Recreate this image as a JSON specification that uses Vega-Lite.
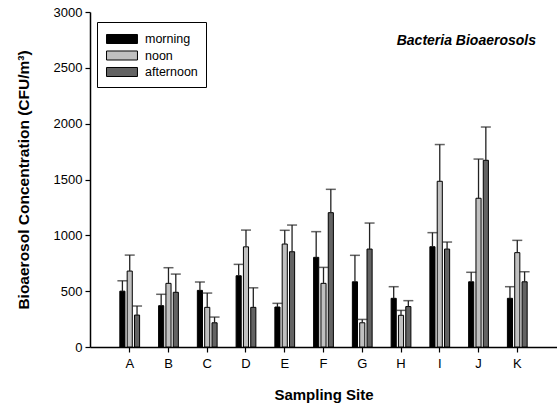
{
  "$schema": "https://vega.github.io/schema/vega-lite/v6.json",
  "width": 467,
  "height": 335,
  "autosize": {"type": "none"},
  "padding": {"left": 90, "top": 12, "right": 0, "bottom": 60},
  "background": "white",
  "config": {
    "view": {"stroke": null},
    "font": "Liberation Sans",
    "axis": {"domainColor": "#000", "tickColor": "#000", "labelColor": "#000", "titleColor": "#000", "grid": false, "labelFont": "Liberation Sans", "titleFont": "Liberation Sans"}
  },
  "title": {"text": "Bacteria Bioaerosols", "anchor": "end", "orient": "top", "fontStyle": "italic", "fontWeight": "bold", "fontSize": 14, "font": "Liberation Sans", "color": "#000", "offset": 0, "dx": -21, "dy": 42},
  "data": {"values": [
    {"site": "A", "time": "morning", "value": 500, "upper": 593},
    {"site": "A", "time": "noon", "value": 680, "upper": 823},
    {"site": "A", "time": "afternoon", "value": 286, "upper": 367},
    {"site": "B", "time": "morning", "value": 370, "upper": 472},
    {"site": "B", "time": "noon", "value": 570, "upper": 710},
    {"site": "B", "time": "afternoon", "value": 490, "upper": 653},
    {"site": "C", "time": "morning", "value": 507, "upper": 582},
    {"site": "C", "time": "noon", "value": 355, "upper": 483},
    {"site": "C", "time": "afternoon", "value": 217, "upper": 268},
    {"site": "D", "time": "morning", "value": 638, "upper": 740},
    {"site": "D", "time": "noon", "value": 897, "upper": 1047},
    {"site": "D", "time": "afternoon", "value": 355, "upper": 530},
    {"site": "E", "time": "morning", "value": 358, "upper": 391},
    {"site": "E", "time": "noon", "value": 922, "upper": 1045},
    {"site": "E", "time": "afternoon", "value": 853, "upper": 1092},
    {"site": "F", "time": "morning", "value": 803, "upper": 1033},
    {"site": "F", "time": "noon", "value": 570, "upper": 713},
    {"site": "F", "time": "afternoon", "value": 1203, "upper": 1412},
    {"site": "G", "time": "morning", "value": 584, "upper": 821},
    {"site": "G", "time": "noon", "value": 217, "upper": 247},
    {"site": "G", "time": "afternoon", "value": 877, "upper": 1110},
    {"site": "H", "time": "morning", "value": 436, "upper": 540},
    {"site": "H", "time": "noon", "value": 284, "upper": 328},
    {"site": "H", "time": "afternoon", "value": 362, "upper": 415},
    {"site": "I", "time": "morning", "value": 898, "upper": 1024},
    {"site": "I", "time": "noon", "value": 1484, "upper": 1813},
    {"site": "I", "time": "afternoon", "value": 877, "upper": 940},
    {"site": "J", "time": "morning", "value": 584, "upper": 669},
    {"site": "J", "time": "noon", "value": 1332, "upper": 1683},
    {"site": "J", "time": "afternoon", "value": 1672, "upper": 1970},
    {"site": "K", "time": "morning", "value": 436, "upper": 540},
    {"site": "K", "time": "noon", "value": 845, "upper": 955},
    {"site": "K", "time": "afternoon", "value": 584, "upper": 674}
  ]},
  "encoding": {
    "x": {"field": "site", "type": "nominal", "sort": null,
      "scale": {"paddingInner": 0.49, "paddingOuter": 0.77},
      "axis": {"title": "Sampling Site", "labelAngle": 0, "labelFontSize": 13, "titleFontSize": 15, "titleFontWeight": "bold", "tickSize": 5, "labelPadding": 5, "titlePadding": 17, "domainWidth": 1.5, "tickWidth": 1.2}},
    "xOffset": {"field": "time", "type": "nominal", "sort": ["morning", "noon", "afternoon"],
      "scale": {"domain": ["morning", "noon", "afternoon"], "paddingInner": 0.3, "paddingOuter": 0}}
  },
  "layer": [
    {
      "mark": {"type": "bar", "stroke": "#000", "strokeWidth": 1},
      "encoding": {
        "y": {"field": "value", "type": "quantitative",
          "scale": {"domain": [0, 3000], "nice": false},
          "axis": {"title": "Bioaerosol Concentration (CFU/m³)", "format": "d", "values": [0, 500, 1000, 1500, 2000, 2500, 3000], "labelFontSize": 13, "titleFontSize": 15.5, "titleFontWeight": "bold", "tickSize": 5, "labelPadding": 3, "titlePadding": 22, "domainWidth": 1.5, "tickWidth": 1.2}},
        "color": {"field": "time", "type": "nominal",
          "scale": {"domain": ["morning", "noon", "afternoon"], "range": ["#000000", "#c0c0c0", "#636363"]},
          "legend": {"title": null, "orient": "none", "legendX": 7, "legendY": 10, "strokeColor": "#000", "fillColor": "#fff", "padding": 8, "labelFontSize": 12.5, "labelColor": "#000", "labelFont": "Liberation Sans", "symbolType": "M-0.88,-0.53L2.76,-0.53L2.76,0.53L-0.88,0.53Z", "symbolSize": 289, "symbolStrokeColor": "#000", "symbolStrokeWidth": 1, "labelOffset": 22, "rowPadding": 0.5, "symbolOpacity": 1}}
      }
    },
    {
      "mark": {"type": "rule", "color": "#222", "strokeWidth": 1.3},
      "encoding": {
        "y": {"field": "value", "type": "quantitative"},
        "y2": {"field": "upper"}
      }
    },
    {
      "mark": {"type": "tick", "color": "#222", "size": 10, "thickness": 1.5},
      "encoding": {
        "y": {"field": "upper", "type": "quantitative"}
      }
    }
  ]
}
